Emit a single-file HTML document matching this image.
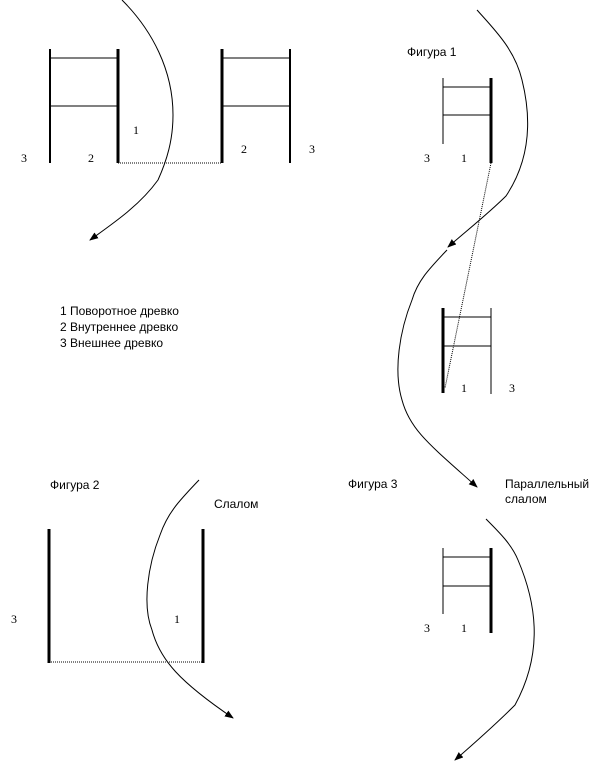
<!DOCTYPE html>
<html><head><meta charset="utf-8"><style>
html,body{margin:0;padding:0;background:#fff}
svg{display:block}
.s{font-family:"Liberation Sans",sans-serif;font-size:12px;fill:#000}
.d{font-family:"Liberation Serif",serif;font-size:12px;fill:#000}
</style></head><body>
<svg width="616" height="765" viewBox="0 0 616 765" xmlns="http://www.w3.org/2000/svg">
<defs>
<marker id="a" markerWidth="10" markerHeight="8" refX="8" refY="4" orient="auto" markerUnits="userSpaceOnUse">
<path d="M0,0.5 L9,4 L0,7.5 z" fill="#000" stroke="none"/></marker>
</defs>
<g stroke="#000" fill="none">
<line x1="50" y1="49" x2="50" y2="163" stroke-width="2"/>
<line x1="118" y1="49" x2="118" y2="163" stroke-width="3"/>
<line x1="50" y1="58" x2="118" y2="58"/>
<line x1="50" y1="106" x2="118" y2="106"/>
<line x1="222" y1="49" x2="222" y2="163" stroke-width="3"/>
<line x1="290" y1="49" x2="290" y2="163" stroke-width="2"/>
<line x1="222" y1="58" x2="290" y2="58"/>
<line x1="222" y1="106" x2="290" y2="106"/>
<line x1="118" y1="163" x2="222" y2="163" stroke-dasharray="1,1"/>
<path d="M122,0 C152,30 173,70 173,115 C173,140 167,160 158,180 C140,205 115,222 90,240" marker-end="url(#a)"/>
<line x1="443" y1="78" x2="443" y2="144" stroke-width="1"/>
<line x1="491" y1="78" x2="491" y2="163" stroke-width="3"/>
<line x1="443" y1="87" x2="491" y2="87"/>
<line x1="443" y1="115" x2="491" y2="115"/>
<line x1="443" y1="308" x2="443" y2="393" stroke-width="3"/>
<line x1="491" y1="308" x2="491" y2="394" stroke-width="1"/>
<line x1="443" y1="317" x2="491" y2="317"/>
<line x1="443" y1="346" x2="491" y2="346"/>
<line x1="491" y1="163" x2="445" y2="388" stroke-dasharray="1,1"/>
<path d="M477,10 C495,30 515,50 522,80 C532,120 530,160 506,196 C490,212 470,228 448,247" marker-end="url(#a)"/>
<path d="M447,250 C430,268 418,280 412,300 C400,330 393,370 402,400 C410,430 430,445 477,487" marker-end="url(#a)"/>
<line x1="49" y1="529" x2="49" y2="663" stroke-width="3"/>
<line x1="203" y1="529" x2="203" y2="663" stroke-width="3"/>
<line x1="49" y1="662" x2="203" y2="662" stroke-dasharray="1,1"/>
<path d="M199,480 C180,500 168,512 160,535 C148,565 142,605 152,630 C160,660 180,682 233,718" marker-end="url(#a)"/>
<line x1="443" y1="548" x2="443" y2="614" stroke-width="1"/>
<line x1="491" y1="548" x2="491" y2="633" stroke-width="3"/>
<line x1="443" y1="557" x2="491" y2="557"/>
<line x1="443" y1="586" x2="491" y2="586"/>
<path d="M486,519 C500,533 512,545 518,560 C535,600 545,650 515,705 C495,725 478,740 455,760" marker-end="url(#a)"/>
</g>
<g>
<text class="d" x="133" y="134">1</text>
<text class="d" x="21" y="162">3</text>
<text class="d" x="88" y="162">2</text>
<text class="d" x="241" y="153">2</text>
<text class="d" x="309" y="153">3</text>
<text class="s" x="407" y="56">Фигура 1</text>
<text class="d" x="424" y="162">3</text>
<text class="d" x="461" y="162">1</text>
<text class="d" x="461" y="392">1</text>
<text class="d" x="509" y="392">3</text>
<text class="s" x="60" y="315">1 Поворотное древко</text>
<text class="s" x="60" y="331">2 Внутреннее древко</text>
<text class="s" x="60" y="347">3 Внешнее древко</text>
<text class="s" x="50" y="489">Фигура 2</text>
<text class="s" x="214" y="508">Слалом</text>
<text class="d" x="11" y="623">3</text>
<text class="d" x="174" y="623">1</text>
<text class="s" x="348" y="488">Фигура 3</text>
<text class="s" x="505" y="488">Параллельный</text>
<text class="s" x="505" y="503">слалом</text>
<text class="d" x="424" y="632">3</text>
<text class="d" x="461" y="632">1</text>
</g>
</svg>
</body></html>
